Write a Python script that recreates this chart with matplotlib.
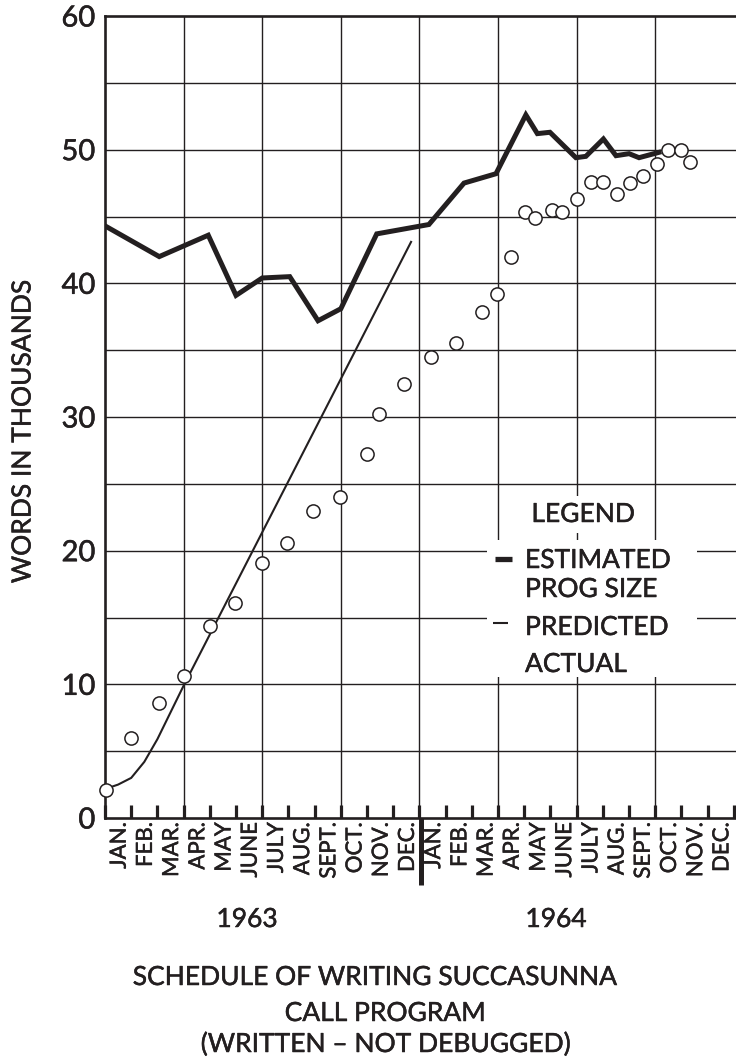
import matplotlib
matplotlib.use('Agg')
import matplotlib.pyplot as plt
import matplotlib.transforms as mtransforms
import matplotlib.patheffects as pe
from matplotlib.patches import Rectangle
from matplotlib.lines import Line2D

# ---------------- data ----------------
month_labels = ["JAN.", "FEB.", "MAR.", "APR.", "MAY", "JUNE", "JULY", "AUG.",
                "SEPT.", "OCT.", "NOV.", "DEC."] * 2
year_labels = ["1963", "1964"]
y_ticks = [0, 10, 20, 30, 40, 50, 60]

# estimated program size (thick line), x in months from Jan 1963
est_x = [0, 2.07, 3.94, 5.0, 6.0, 7.05, 8.13, 9.0, 10.37, 12.36, 13.7, 14.92,
         16.06, 16.5, 16.98, 17.97, 18.35, 19.02, 19.5, 20.0, 20.38, 21.14]
est_y = [44.3, 42.0, 43.6, 39.1, 40.4, 40.5, 37.2, 38.1, 43.7, 44.4, 47.5, 48.2,
         52.6, 51.2, 51.3, 49.4, 49.5, 50.8, 49.55, 49.7, 49.4, 49.8]

# predicted (thin line)
pred_x = [0.05, 0.5, 1.0, 1.5, 2.0, 2.5, 3.0, 11.68]
pred_y = [2.2, 2.5, 3.0, 4.2, 5.9, 7.9, 9.9, 43.1]

# actual (open circles)
act_x = [0.05, 1.0, 2.05, 3.0, 4.0, 4.97, 5.98, 6.96, 7.94, 8.95, 9.99, 10.44,
         11.4, 12.45, 13.4, 14.39, 14.96, 15.5, 16.04, 16.42, 17.05, 17.44, 18.0,
         18.56, 19.02, 19.52, 20.02, 20.53, 21.05, 21.47, 21.98, 22.32]
act_y = [2.1, 6.0, 8.6, 10.6, 14.4, 16.1, 19.05, 20.6, 23.0, 24.0, 27.2, 30.2,
         32.5, 34.5, 35.5, 37.85, 39.2, 42.0, 45.3, 44.9, 45.5, 45.35, 46.3,
         47.55, 47.6, 46.65, 47.5, 48.0, 48.9, 50.0, 50.0, 49.1]

title_lines = ["SCHEDULE OF WRITING SUCCASUNNA", "CALL PROGRAM",
               "(WRITTEN \u2013 NOT DEBUGGED)"]
legend_title = "LEGEND"
legend_items = ["ESTIMATED", "PROG SIZE", "PREDICTED", "ACTUAL"]
y_label = "WORDS IN THOUSANDS"

# ---------------- style ----------------
W, H = 736, 1061
INK = '#231f20'
plt.rcParams['font.family'] = ['Lato', 'DejaVu Sans']
HEAVY = [pe.withStroke(linewidth=0.35, foreground=INK)]


def fx(px):
    return px / W


def fy(py):
    return 1 - py / H


fig = plt.figure(figsize=(W / 100, H / 100), dpi=100)
ax = fig.add_axes([fx(105), fy(818), fx(736) - fx(105), fy(16) - fy(818)])
ax.set_xlim(0, 24.08)
ax.set_ylim(0, 60)

# grid
for gx in range(3, 22, 3):
    ax.axvline(gx, color=INK, lw=1.0, zorder=1)
for gy in range(5, 60, 5):
    ax.axhline(gy, color=INK, lw=1.0, zorder=1)

for s in ['left', 'top', 'bottom']:
    ax.spines[s].set_linewidth(1.9)
    ax.spines[s].set_color(INK)
ax.spines['right'].set_visible(False)

# x ticks: month marks + labels between them
ax.set_xticks(range(25))
ax.set_xticklabels([])
ax.tick_params(axis='x', which='major', direction='in', length=9.5, width=2.3,
               color=INK)
ax.set_xticks([k + 0.56 for k in range(24)], month_labels, minor=True)
ax.tick_params(axis='x', which='minor', length=0, pad=3, labelsize=16,
               labelrotation=90, labelcolor=INK)
for lab in ax.get_xticklabels(minor=True):
    lab.set_verticalalignment('top')
    lab.set_path_effects(HEAVY)

ax.set_yticks(y_ticks)
ax.tick_params(axis='y', length=0, pad=7, labelsize=21, labelcolor=INK)
for lab in ax.get_yticklabels():
    lab.set_path_effects(HEAVY)

# series
ax.plot(est_x, est_y, color=INK, lw=3.6, solid_joinstyle='miter', zorder=4)
ax.plot(pred_x, pred_y, color=INK, lw=1.5, zorder=4)
ax.plot(act_x, act_y, ls='none', marker='o', ms=9.5, mfc='white', mec=INK,
        mew=1.1, zorder=5, clip_on=False)

# year divider bar
trans = mtransforms.blended_transform_factory(ax.transData, ax.transAxes)
ax.plot([12.05, 12.05], [0, -0.083], transform=trans, color=INK, lw=3.6,
        clip_on=False, solid_capstyle='butt', zorder=6)

# legend box (white patch over grid)
fig.add_artist(Rectangle((fx(487), fy(677)), fx(697) - fx(487), fy(540) - fy(677),
                         transform=fig.transFigure, facecolor='white',
                         edgecolor='none', zorder=3))
fig.text(fx(583), fy(522), legend_title, ha='center', va='baseline', size=19,
         color=INK, zorder=5, path_effects=HEAVY,
         bbox=dict(facecolor='white', edgecolor='none', pad=4))
fig.add_artist(Line2D([fx(495), fx(512)], [fy(559), fy(559)], color=INK, lw=3.8,
                      solid_capstyle='butt', zorder=5))
fig.add_artist(Line2D([fx(493), fx(508)], [fy(623), fy(623)], color=INK, lw=1.5,
                      solid_capstyle='butt', zorder=5))
leg_base = [568, 597, 635, 672]
for txt, b in zip(legend_items, leg_base):
    fig.text(fx(525), fy(b), txt, ha='left', va='baseline', size=19, color=INK,
             zorder=5, path_effects=HEAVY)

# y label
fig.text(fx(23), fy(432), y_label, rotation=90, ha='center', va='center',
         size=19, color=INK, path_effects=HEAVY)

# year labels
for txt, px in zip(year_labels, [247, 556]):
    fig.text(fx(px), fy(927), txt, ha='center', va='baseline', size=19,
             color=INK, path_effects=HEAVY)

# title
for txt, px, b in zip(title_lines, [374, 385, 385], [985, 1021, 1052]):
    fig.text(fx(px), fy(b), txt, ha='center', va='baseline', size=19,
             color=INK, path_effects=HEAVY)

fig.savefig('out.png', dpi=100)
